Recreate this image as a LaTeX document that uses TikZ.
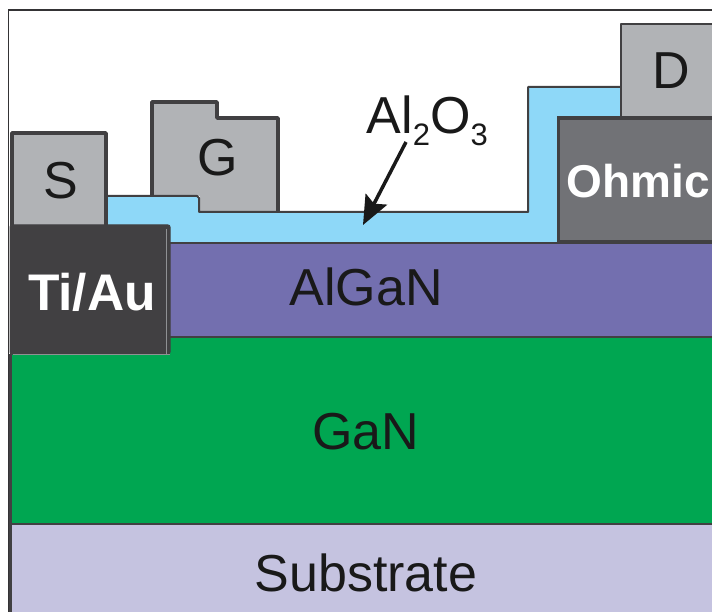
\documentclass[tikz,border=0pt]{standalone}
\usepackage{fontspec}
\setmainfont{Liberation Sans}
\usepackage{tikz}
\usetikzlibrary{arrows.meta,positioning}
\definecolor{edgegrey}{HTML}{414042}
\definecolor{metalgrey}{HTML}{B1B3B6}
\definecolor{ohmicgrey}{HTML}{717276}
\definecolor{oxideblue}{HTML}{8ED8F8}
\definecolor{alganblue}{HTML}{736FAF}
\definecolor{ganblue}{HTML}{00A651}
\definecolor{subblue}{HTML}{C5C3E0}
\tikzstyle{layer}=[rectangle, inner sep=0pt, outer sep=0pt, minimum width=700pt]
\tikzstyle{metal}=[draw=edgegrey, line width=3.5pt, line join=round]
\tikzstyle{lab}=[inner sep=0pt, text=black!90, font=\fontsize{52}{52}\selectfont]
\tikzstyle{wlab}=[inner sep=0pt, text=white, font=\bfseries\fontsize{51.5}{52}\selectfont]

\begin{document}
\begin{tikzpicture}
[x=1pt, y=-1pt, node distance=0pt]
 \useasboundingbox (0,0) rectangle (712,612);
 % frame
 \draw[edgegrey!80!black, line width=1.5pt] (712,10) -- (8.5,10) -- (8.5,612);
 % stacked layers
 \node[layer, fill=alganblue, minimum height=94pt, anchor=north west] (algan) at (12,243) {};
 \node[layer, fill=ganblue, minimum height=187pt] (gan) [below=of algan] {};
 \node[layer, fill=subblue, minimum height=88pt] (sub) [below=of gan] {};
 \draw[edgegrey, line width=3.5pt] (170,242) -- (712,242);
 \draw[edgegrey, line width=1.5pt] (algan.south west) -- (algan.south east);
 \draw[edgegrey, line width=2pt] (gan.south west) -- (gan.south east);
 \draw[edgegrey, line width=3.5pt] (10.5,354) -- (10.5,612);
 % oxide
 \fill[oxideblue] (106,196) -- (198,196) -- (199,212) -- (528,212) -- (528,87) -- (621,87)
   -- (621,118) -- (558,118) -- (558,242) -- (106,242) -- cycle;
 % contacts
 \fill[metalgrey] (12,225) -- (12,133) -- (106,133) -- (106,225) -- cycle;
 \draw[metal] (12,225) -- (12,133) -- (106,133) -- (106,225);
 \fill[metalgrey] (152,196) -- (152,102) -- (217,102) -- (217,118) -- (278,118) -- (278,212) -- (200,212) -- (200,196) -- cycle;
 \draw[metal] (152,196) -- (152,102) -- (217,102) -- (217,118) -- (278,118) -- (278,212);
 \draw[edgegrey, line width=2pt, line join=round] (106,196) -- (197,196) -- (199,198) -- (199,212)
   -- (528,212) -- (528,87) -- (621,87);
 \fill[metalgrey] (621,24) rectangle (712,118);
 \draw[metal, line width=2.5pt] (716,24) -- (621,24) -- (621,120);
 \draw[draw=edgegrey, fill=ohmicgrey, line width=3.5pt] (716,118) -- (558.5,118) -- (558.5,242) -- (716,242);
 \draw[draw=edgegrey, fill=edgegrey, line width=1pt, rounded corners=2pt] (10,225) -- (170,225) -- (170,354) -- (10,354) -- cycle;
 \draw[metalgrey!70!edgegrey, line width=1pt] (166.5,229) -- (166.5,354) -- (170,354);
 \draw[metalgrey!70!edgegrey, line width=1pt] (13,354) -- (170,354);
 % labels
 \node[lab] (slab) at (61,181) {S};
 \node[lab] (glab) at (218,158) {G};
 \node[lab] (dlab) at (671,71) {D};
 \node[lab] (alganlab) at (366,287) {AlGaN};
 \node[lab] (ganlab) at (366,432) {GaN};
 \node[lab] (sublab) at (366,573) {Substrate};
 \node[wlab] (tilab) at (92,292) {Ti/Au};
 \node[wlab, font=\bfseries\fontsize{46}{46}\selectfont] (ohmlab) at (638,181) {Ohmic};
 \node[lab, anchor=base west] (oxlab) at (366.5,134) {Al\raisebox{-12pt}{\fontsize{31}{31}\selectfont 2}O\raisebox{-12pt}{\fontsize{31}{31}\selectfont 3}};
 % arrow
 \coordinate (oxtip) at (363,225);
 \coordinate (oxtail) at (406,142);
 \draw[-{Stealth[length=29pt,width=24pt,inset=5pt]}, black!90, line width=3.5pt] (oxtail) -- (oxtip);
\end{tikzpicture}
\end{document}
